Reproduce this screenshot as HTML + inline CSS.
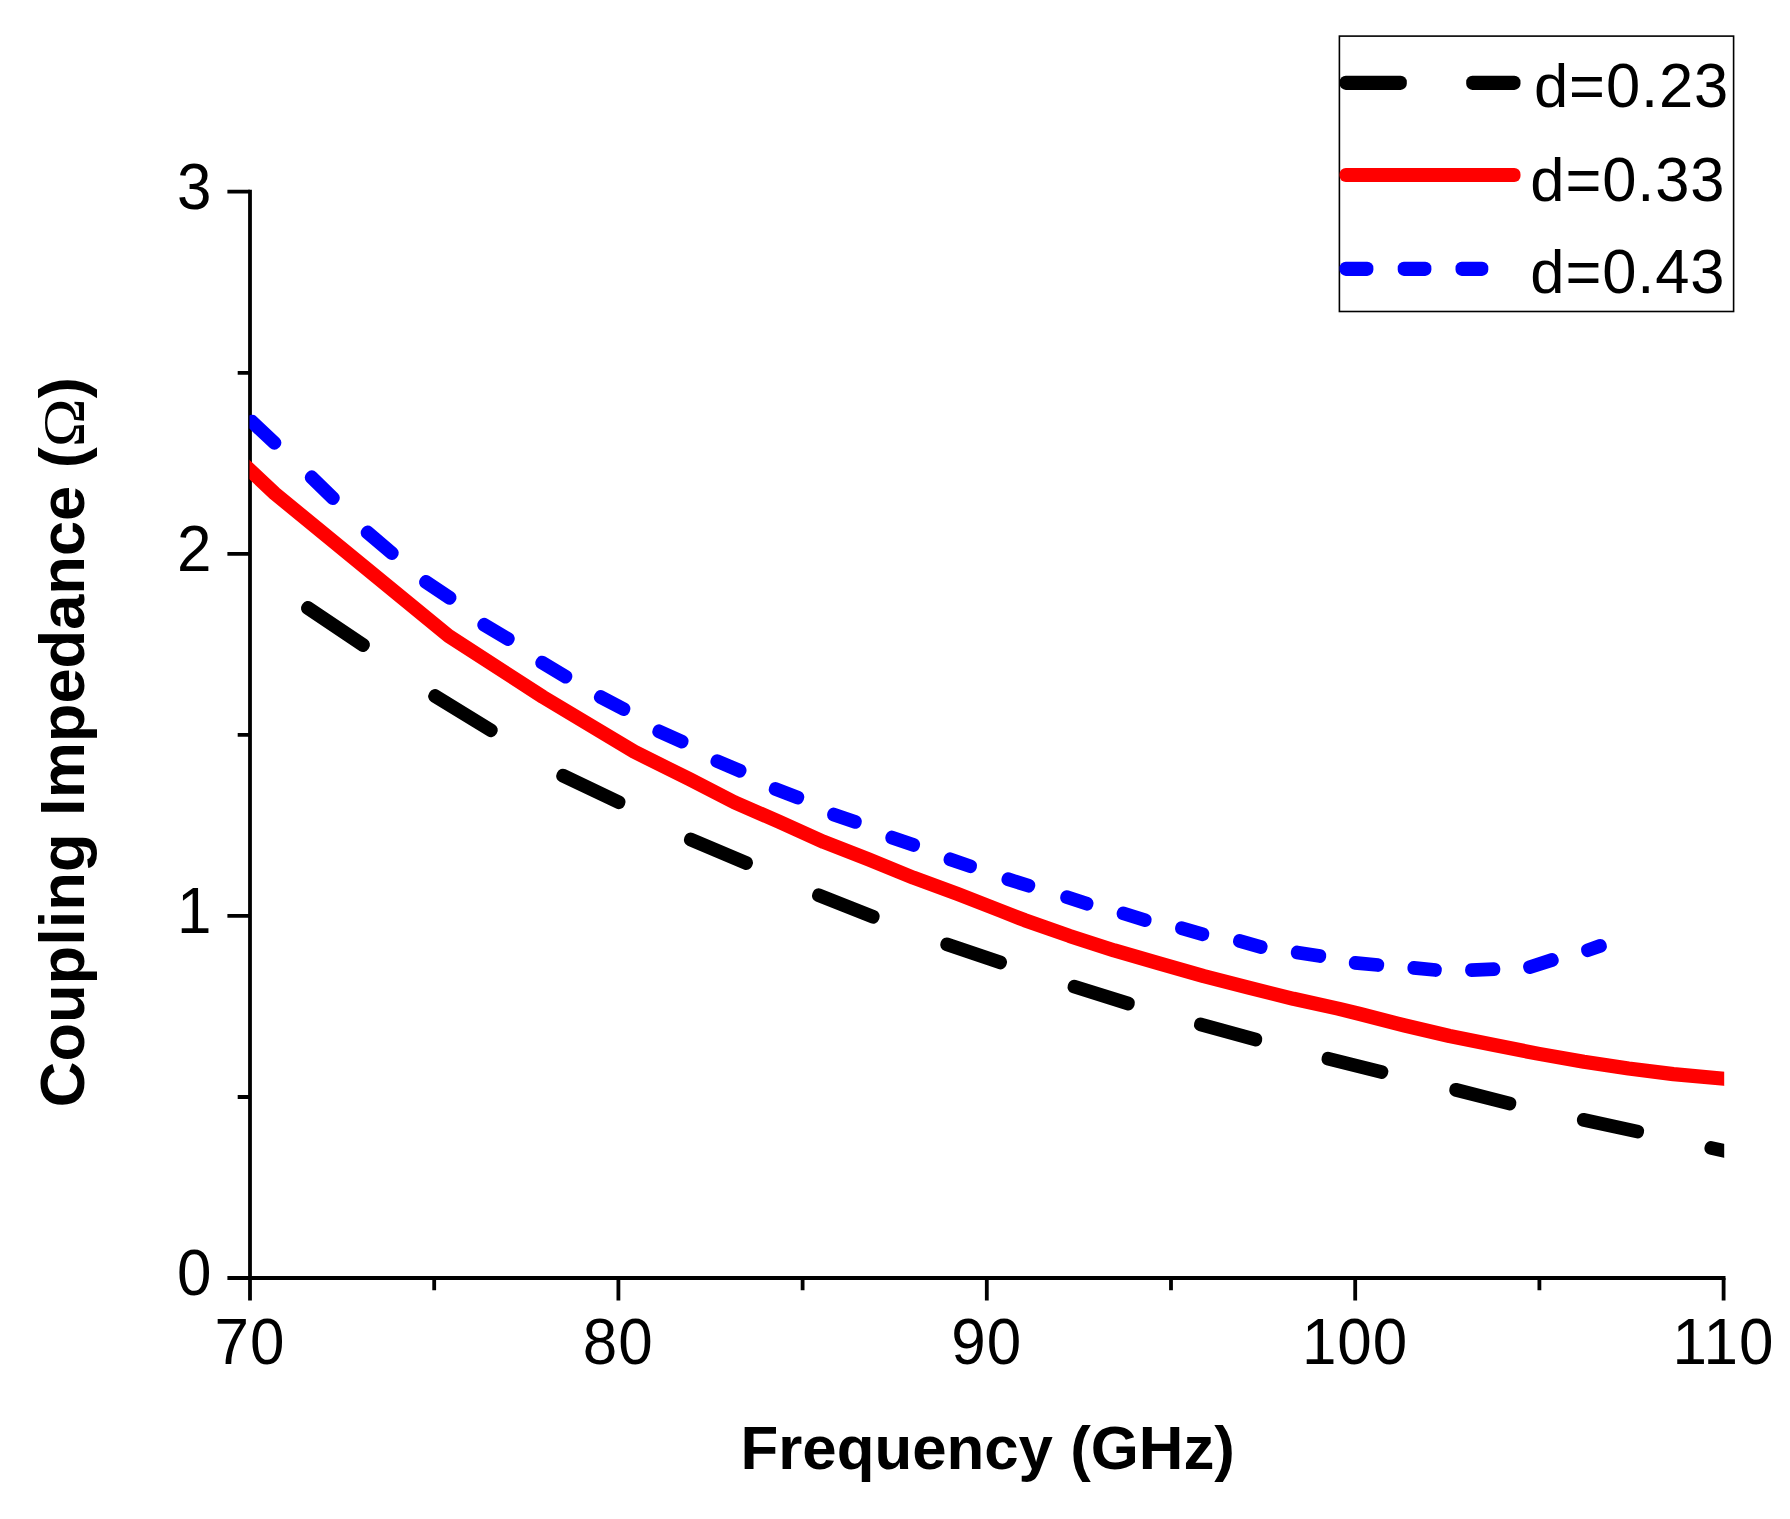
<!DOCTYPE html>
<html lang="en"><head><meta charset="utf-8">
<title>Coupling Impedance vs Frequency</title>
<style>
html,body{margin:0;padding:0;background:#fff;}
body{width:1790px;height:1519px;overflow:hidden;}
svg{display:block;}
text{font-family:"Liberation Sans",Arial,Helvetica,sans-serif;fill:#000;}
.t{font-size:62px;letter-spacing:1px;}
.l{font-size:61.5px;letter-spacing:0.9px;}
.bx{font-size:61.8px;font-weight:bold;}
.by{font-size:63.2px;font-weight:bold;}
.om{font-family:"Liberation Serif","DejaVu Serif",serif;font-weight:normal;font-size:60px;}
</style></head><body>
<svg width="1790" height="1519" viewBox="0 0 1790 1519">
<rect width="1790" height="1519" fill="#fff"/>
<defs><clipPath id="plot"><rect x="249.5" y="0" width="1474.7" height="1519"/></clipPath></defs>
<g stroke="#000" stroke-width="3.8" fill="none" stroke-linecap="butt">
<path d="M250 189.8V1300.6"/>
<path d="M227.4 1278H1725.5"/>
<path d="M237.7 1097H250M227.4 915.9H250M237.7 734.9H250M227.4 553.8H250M237.7 372.8H250M227.4 191.7H250"/>
<path d="M434.2 1278V1290.3M618.4 1278V1300.6M802.6 1278V1290.3M986.8 1278V1300.6M1171 1278V1290.3M1355.2 1278V1300.6M1539.4 1278V1290.3M1723.6 1278V1300.6"/>
</g>
<g clip-path="url(#plot)" fill="none" stroke-width="13.7" stroke-linecap="round" stroke-linejoin="round">
<g fill="#000" stroke="none"><rect x="295.6" y="619.6" width="79.7" height="13.7" rx="6.2" transform="rotate(33.95 335.4 626.5)"/><rect x="423.6" y="706.3" width="78.7" height="13.7" rx="6.2" transform="rotate(31.49 462.9 713.2)"/><rect x="553.4" y="782.1" width="74.9" height="13.7" rx="6.2" transform="rotate(25.47 590.8 789)"/><rect x="681.7" y="844.4" width="73.4" height="13.7" rx="6.2" transform="rotate(22.93 718.4 851.3)"/><rect x="810.1" y="899.2" width="71.5" height="13.7" rx="6.2" transform="rotate(21.65 845.9 906.1)"/><rect x="938.9" y="946.5" width="69.4" height="13.7" rx="6.2" transform="rotate(18.75 973.5 953.4)"/><rect x="1066.4" y="988.2" width="69.6" height="13.7" rx="6.2" transform="rotate(17.39 1101.2 995.1)"/><rect x="1193.1" y="1025.2" width="70.1" height="13.7" rx="6.2" transform="rotate(15.38 1228.2 1032)"/><rect x="1320.8" y="1058.5" width="68.2" height="13.7" rx="6.2" transform="rotate(14.08 1354.9 1065.3)"/><rect x="1448.5" y="1089.8" width="68.6" height="13.7" rx="6.2" transform="rotate(14.18 1482.8 1096.6)"/><rect x="1576.3" y="1118.8" width="68.3" height="13.7" rx="6.2" transform="rotate(12.26 1610.4 1125.7)"/><rect x="1704.2" y="1144.2" width="41.4" height="13.7" rx="6.2" transform="rotate(12.99 1724.8 1151.1)"/></g>
<g fill="#0000ff" stroke="none"><rect x="241.2" y="425.4" width="44.1" height="13.7" rx="6.2" transform="rotate(43.25 263.2 432.2)"/><rect x="300.8" y="480.8" width="42.9" height="13.7" rx="6.2" transform="rotate(44.43 322.2 487.7)"/><rect x="357.2" y="535.9" width="45" height="13.7" rx="6.2" transform="rotate(40.31 379.6 542.8)"/><rect x="416.9" y="583" width="41.7" height="13.7" rx="6.2" transform="rotate(33.84 437.7 589.9)"/><rect x="475.6" y="625" width="40.9" height="13.7" rx="6.2" transform="rotate(31.08 496 631.8)"/><rect x="533.6" y="662.8" width="40.5" height="13.7" rx="6.2" transform="rotate(30.87 553.9 669.6)"/><rect x="592.6" y="696.2" width="39.1" height="13.7" rx="6.2" transform="rotate(27.74 612.1 703.1)"/><rect x="651.4" y="729.6" width="38.1" height="13.7" rx="6.2" transform="rotate(24.15 670.5 736.5)"/><rect x="709.7" y="759.1" width="37.6" height="13.7" rx="6.2" transform="rotate(22.82 728.5 765.9)"/><rect x="768.1" y="786.4" width="36.8" height="13.7" rx="6.2" transform="rotate(21.34 786.5 793.3)"/><rect x="826.6" y="811.4" width="35.7" height="13.7" rx="6.2" transform="rotate(18.94 844.5 818.2)"/><rect x="884.8" y="834.4" width="35.8" height="13.7" rx="6.2" transform="rotate(19.09 902.7 841.2)"/><rect x="943.1" y="855.9" width="34.4" height="13.7" rx="6.2" transform="rotate(19.01 960.2 862.7)"/><rect x="1001.1" y="875.6" width="34.5" height="13.7" rx="6.2" transform="rotate(17.70 1018.3 882.5)"/><rect x="1059.8" y="893.6" width="34.1" height="13.7" rx="6.2" transform="rotate(18.12 1076.8 900.4)"/><rect x="1116.2" y="909.9" width="35.8" height="13.7" rx="6.2" transform="rotate(17.07 1134.1 916.8)"/><rect x="1174.7" y="924.4" width="34.9" height="13.7" rx="6.2" transform="rotate(15.95 1192.2 931.3)"/><rect x="1232.7" y="937.2" width="35.2" height="13.7" rx="6.2" transform="rotate(16.01 1250.3 944)"/><rect x="1290.7" y="947.4" width="35.6" height="13.7" rx="6.2" transform="rotate(9.04 1308.5 954.3)"/><rect x="1348.8" y="957.1" width="35.4" height="13.7" rx="6.2" transform="rotate(5.52 1366.5 963.9)"/><rect x="1407.4" y="962.1" width="34.4" height="13.7" rx="6.2" transform="rotate(5.68 1424.6 969)"/><rect x="1465.1" y="962.8" width="35.2" height="13.7" rx="6.2" transform="rotate(-2.44 1482.7 969.6)"/><rect x="1522.7" y="956.7" width="36.4" height="13.7" rx="6.2" transform="rotate(-17.74 1540.9 963.5)"/><rect x="1580.8" y="941.2" width="26.3" height="13.7" rx="6.2" transform="rotate(-19.54 1594 948.1)"/></g>
<polyline stroke="#ff0000" stroke-width="14.2" stroke-linecap="butt" points="237.5,458.4 249.5,469.7 274.8,493.5 448.7,636 543,697 634.2,751.7 689.5,779.2 734.3,802.3 779.1,821.8 823.8,841.9 868.6,859.4 913.4,877.7 958.1,894.1 1000,910.5 1024.8,920.2 1069.5,935.9 1114.3,950.4 1159.1,963.4 1203.8,976.2 1248.6,987.6 1293.4,998.8 1338.1,1008.6 1360,1014 1404.8,1025.5 1449.5,1036 1494.3,1045 1539.1,1053.9 1583.8,1061.8 1628.6,1068.5 1673.4,1074.1 1724.2,1078.8 1736.2,1079.9"/>
</g>
<text class="t" transform="translate(212.5 1295) scale(1 1.047)" text-anchor="end">0</text>
<text class="t" transform="translate(212.5 932.9) scale(1 1.047)" text-anchor="end">1</text>
<text class="t" transform="translate(212.5 570.8) scale(1 1.047)" text-anchor="end">2</text>
<text class="t" transform="translate(212.5 208.7) scale(1 1.047)" text-anchor="end">3</text>
<text class="t" transform="translate(249.9 1363.6) scale(1 1.047)" text-anchor="middle">70</text>
<text class="t" transform="translate(618.3 1363.6) scale(1 1.047)" text-anchor="middle">80</text>
<text class="t" transform="translate(986.7 1363.6) scale(1 1.047)" text-anchor="middle">90</text>
<text class="t" transform="translate(1355.1 1363.6) scale(1 1.047)" text-anchor="middle">100</text>
<text class="t" transform="translate(1723.5 1363.6) scale(1 1.047)" text-anchor="middle">110</text>
<text class="bx" x="987.7" y="1469.4" text-anchor="middle">Frequency (GHz)</text>
<text class="by" transform="translate(84.1 742.2) rotate(-90)" text-anchor="middle">Coupling Impedance (<tspan class="om" textLength="49" lengthAdjust="spacingAndGlyphs">&#937;</tspan>)</text>
<rect x="1339.4" y="36.1" width="394.2" height="275.4" fill="#fff" stroke="#000" stroke-width="1.6"/>
<rect x="1339.6" y="75.8" width="67.2" height="14.1" rx="6.2" fill="#000"/><rect x="1466.2" y="75.8" width="54.3" height="14.1" rx="6.2" fill="#000"/>
<rect x="1339.6" y="168" width="180.9" height="14.1" rx="6.2" fill="#ff0000"/>
<rect x="1339.6" y="261.8" width="33.8" height="14.1" rx="6.2" fill="#0000ff"/><rect x="1397.7" y="261.8" width="33.7" height="14.1" rx="6.2" fill="#0000ff"/><rect x="1455.5" y="261.8" width="32.8" height="14.1" rx="6.2" fill="#0000ff"/>
<text class="l" x="1534" y="107.2">d=</text>
<text class="l" transform="translate(1605.9 107.2) scale(1 1.03)">0.23</text>
<text class="l" x="1530.3" y="200.9">d=</text>
<text class="l" transform="translate(1602.2 200.9) scale(1 1.03)">0.33</text>
<text class="l" x="1530.3" y="293.3">d=</text>
<text class="l" transform="translate(1602.2 293.3) scale(1 1.03)">0.43</text>
</svg>
</body></html>
